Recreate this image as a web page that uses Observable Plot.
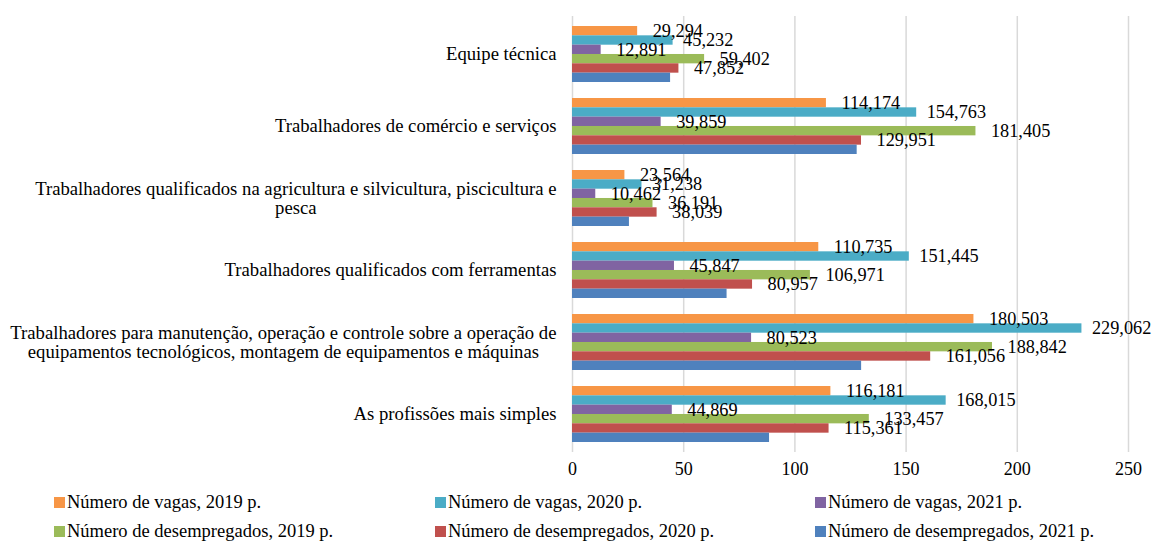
<!DOCTYPE html>
<html>
<head>
<meta charset="utf-8">
<script src="https://cdn.jsdelivr.net/npm/d3@7"></script>
<script src="https://cdn.jsdelivr.net/npm/@observablehq/plot@0.6"></script>
<style>
  html, body { margin: 0; padding: 0; background: #fff; }
  #wrap { position: relative; width: 1152px; height: 541px; font-family: "Liberation Serif", "Times New Roman", serif; }
  #legend { position: absolute; left: 0; top: 0; width: 1152px; height: 541px; pointer-events: none; }
  .item { position: absolute; display: flex; align-items: center; font-size: 18.5px; color: #000; white-space: nowrap; }
  .sw { width: 11px; height: 11px; margin-right: 2px; }
</style>
</head>
<body>
<div id="wrap"><div id="chart"></div><div id="legend"></div></div>
<script>
const categories = [
  "Equipe técnica",
  "Trabalhadores de comércio e serviços",
  "Trabalhadores qualificados na agricultura e silvicultura, piscicultura e\npesca",
  "Trabalhadores qualificados com ferramentas",
  "Trabalhadores para manutenção, operação e controle sobre a operação de\nequipamentos tecnológicos, montagem de equipamentos e máquinas",
  "As profissões mais simples"
];
const vagas2019   = [29294, 114174, 23564, 110735, 180503, 116181];
const vagas2020   = [45232, 154763, 31238, 151445, 229062, 168015];
const vagas2021   = [12891, 39859, 10462, 45847, 80523, 44869];
const desemp2019  = [59402, 181405, 36191, 106971, 188842, 133457];
const desemp2020  = [47852, 129951, 38039, 80957, 161056, 115361];
const desemp2021  = [44100, 128000, 25600, 69500, 130000, 88600];
const seriesNames = [
  "Número de vagas, 2019 p.",
  "Número de vagas, 2020 p.",
  "Número de vagas, 2021 p.",
  "Número de desempregados, 2019 p.",
  "Número de desempregados, 2020 p.",
  "Número de desempregados, 2021 p."
];
const seriesColors = ["#F79646", "#4BACC6", "#8064A2", "#9BBB59", "#C0504D", "#4F81BD"];
const seriesLabelled = [true, true, true, true, true, false];
const xTicks = [0, 50, 100, 150, 200, 250];

const seriesValues = [vagas2019, vagas2020, vagas2021, desemp2019, desemp2020, desemp2021];

// layout
const W = 1152, H = 485, mL = 572, mR = 24, mT = 16, mB = 33;
const padInner = 0.2272, padOuter = 0.1242;
const step = (H - mT - mB) / (categories.length - padInner + 2 * padOuter);
const bw = step * (1 - padInner);
const slot = bw / seriesValues.length;
const fmt = d3.format(",");
const catFont = 18.7;
const labelDx = [15, 10, 15, 15, 15, 15];

const marks = [Plot.gridX(xTicks, {stroke: "#d9d9d9", strokeOpacity: 1, strokeWidth: 1.5})];

seriesValues.forEach((vals, i) => {
  const rows = categories.map((c, j) => ({cat: c, v: vals[j]}));
  marks.push(Plot.barX(rows, {
    x: d => d.v / 1000, y: "cat", fill: seriesColors[i],
    insetTop: i * slot, insetBottom: (seriesValues.length - 1 - i) * slot
  }));
});
seriesValues.forEach((vals, i) => {
  if (!seriesLabelled[i]) return;
  const rows = categories.map((c, j) => ({cat: c, v: vals[j]}));
  marks.push(Plot.text(rows, {
    x: d => d.v / 1000, y: "cat", text: d => fmt(d.v),
    dx: labelDx[i], dy: -bw / 2 + (i + 0.5) * slot, textAnchor: "start",
    fontSize: 18.3, fill: "#000"
  }));
});

// category labels (centered multi-line blocks, right-aligned to the axis)
const ctx = document.createElement("canvas").getContext("2d");
ctx.font = catFont + "px 'Liberation Serif'";
categories.forEach(c => {
  const w = Math.max(...c.split("\n").map(s => ctx.measureText(s).width));
  marks.push(Plot.text([c], {
    y: d => d, text: d => d, frameAnchor: "left", textAnchor: "middle",
    dx: -(16 + w / 2), lineHeight: 1.0, fontSize: catFont, fill: "#000"
  }));
});

marks.push(Plot.axisX(xTicks, {tickSize: 0, tickPadding: 10, fontSize: 18, fill: "#000"}));

const chart = Plot.plot({
  width: W, height: H,
  marginLeft: mL, marginRight: mR, marginTop: mT, marginBottom: mB,
  style: {fontFamily: "'Liberation Serif', 'Times New Roman', serif", fontSize: "18px", background: "#fff", color: "#000"},
  x: {domain: [0, 250], axis: null},
  y: {domain: categories, paddingInner: padInner, paddingOuter: padOuter, axis: null},
  marks
});
document.getElementById("chart").appendChild(chart);

// legend
const legend = document.getElementById("legend");
const colX = [54, 435, 815];
const rowY = [502, 531];
seriesNames.forEach((name, s) => {
  const r = Math.floor(s / 3), c = s % 3;
  const el = document.createElement("div");
  el.className = "item";
  el.style.left = colX[c] + "px";
  el.style.top = (rowY[r] - 12) + "px";
  el.style.height = "24px";
  const sw = document.createElement("span");
  sw.className = "sw";
  sw.style.background = seriesColors[s];
  const tx = document.createElement("span");
  tx.textContent = name;
  el.appendChild(sw); el.appendChild(tx);
  legend.appendChild(el);
});
</script>
</body>
</html>
